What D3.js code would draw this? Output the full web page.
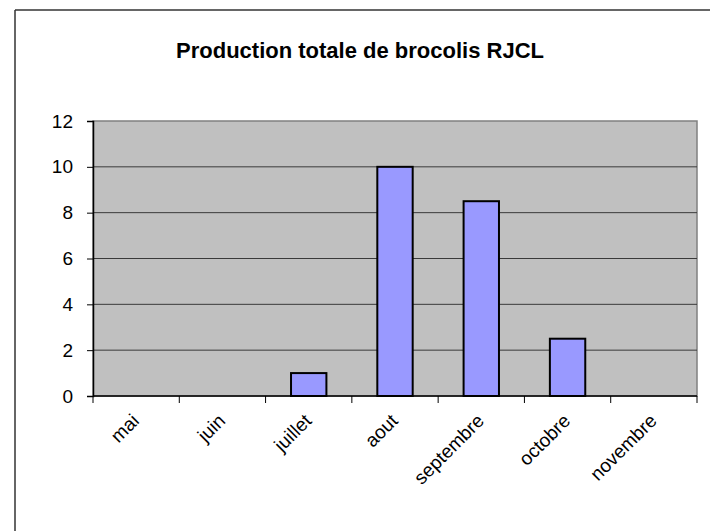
<!DOCTYPE html>
<html><head><meta charset="utf-8">
<script src="https://cdn.jsdelivr.net/npm/d3@7"></script>
<style>body{margin:0;background:#fff;} svg{display:block;font-family:"Liberation Sans",Arial,sans-serif;}</style>
</head><body>
<script>
const months = ["mai","juin","juillet","aout","septembre","octobre","novembre"];
const production = [0,0,1,10,8.5,2.5,0];
const yTicks = [0,2,4,6,8,10,12];
const title = "Production totale de brocolis RJCL";

const W=710,H=531;
const FONT="Liberation Sans, Arial, sans-serif";
const svg=d3.select("body").append("svg").attr("width",W).attr("height",H);
// frame
svg.append("line").attr("x1",15).attr("x2",W).attr("y1",10).attr("y2",10).attr("stroke","#333").attr("stroke-width",1.5);
svg.append("line").attr("x1",15).attr("x2",15).attr("y1",10).attr("y2",H).attr("stroke","#333").attr("stroke-width",1.5);

const L=93,R=697,T=121,B=396;
const x=d3.scaleBand().domain(months).range([L,R]).paddingInner(0).paddingOuter(0);
const y=d3.scaleLinear().domain([0,12]).range([B,T]);

svg.append("rect").attr("x",L).attr("y",T).attr("width",R-L).attr("height",B-T).attr("fill","#c0c0c0").attr("stroke","#808080").attr("stroke-width",1.5);
svg.append("g").selectAll("line").data(yTicks.filter(d=>d>0&&d<12)).join("line")
  .attr("x1",L).attr("x2",R).attr("y1",d=>y(d)).attr("y2",d=>y(d)).attr("stroke","#3a3a3a").attr("stroke-width",1);

const bw=x.bandwidth()*0.41;
svg.append("g").selectAll("rect").data(months.map((m,i)=>({m,v:production[i]})).filter(d=>d.v>0)).join("rect")
  .attr("x",d=>x(d.m)+x.bandwidth()/2-bw/2).attr("width",bw)
  .attr("y",d=>y(d.v)).attr("height",d=>B-y(d.v))
  .attr("fill","#9999ff").attr("stroke","#000").attr("stroke-width",2);

// y axis
const ya=svg.append("g").attr("transform",`translate(${L},0)`).call(d3.axisLeft(y).tickValues(yTicks).tickSize(6).tickPadding(14));
ya.attr("font-size",null).attr("font-family",null);
ya.select(".domain").attr("stroke","#000").attr("stroke-width",1.5);
ya.selectAll(".tick line").attr("stroke","#000");
ya.selectAll("text").style("font-size","19px").style("font-family",FONT).attr("fill","#000");

// x axis
const xa=svg.append("g").attr("transform",`translate(0,${B})`);
xa.append("line").attr("x1",L).attr("x2",R).attr("stroke","#000").attr("stroke-width",1.5);
const bounds=months.map(m=>x(m)).concat([R]);
xa.selectAll("line.tk").data(bounds).join("line").attr("class","tk").attr("x1",d=>d).attr("x2",d=>d).attr("y1",0).attr("y2",7).attr("stroke","#000");
xa.selectAll("text").data(months).join("text")
  .attr("transform",d=>`translate(${x(d)+x.bandwidth()/2+4},${26}) rotate(-45)`)
  .attr("text-anchor","end").style("font-size","19px").style("font-family",FONT).attr("fill","#000").text(d=>d);

svg.append("text").attr("x",360).attr("y",58).attr("text-anchor","middle").attr("font-weight","bold").style("font-size","22px").style("font-family",FONT).text(title);
</script>
</body></html>
